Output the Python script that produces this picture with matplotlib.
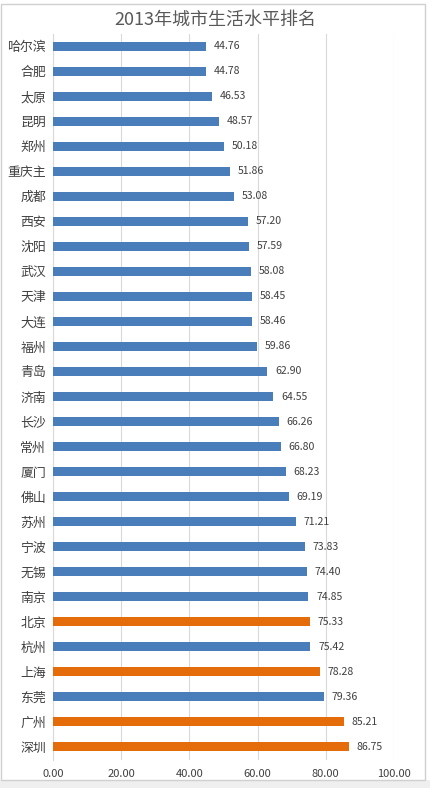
import matplotlib
matplotlib.use("Agg")
import matplotlib.pyplot as plt
from matplotlib.patches import Rectangle

plt.rcParams['font.family'] = ['Noto Sans CJK SC', 'DejaVu Sans']

cities = ["哈尔滨", "合肥", "太原", "昆明", "郑州", "重庆主", "成都", "西安", "沈阳", "武汉",
          "天津", "大连", "福州", "青岛", "济南", "长沙", "常州", "厦门", "佛山", "苏州",
          "宁波", "无锡", "南京", "北京", "杭州", "上海", "东莞", "广州", "深圳"]
values = [44.76, 44.78, 46.53, 48.57, 50.18, 51.86, 53.08, 57.20, 57.59, 58.08,
          58.45, 58.46, 59.86, 62.90, 64.55, 66.26, 66.80, 68.23, 69.19, 71.21,
          73.83, 74.40, 74.85, 75.33, 75.42, 78.28, 79.36, 85.21, 86.75]
highlight = ["北京", "上海", "广州", "深圳"]
xticks = [0, 20, 40, 60, 80, 100]
title = "2013年城市生活水平排名"

blue = "#4A7EBB"
orange = "#E46C0A"
colors = [orange if c in highlight else blue for c in cities]

fig = plt.figure(figsize=(4.31, 7.88), dpi=100)
fig.patch.set_facecolor("white")
# gray strip at bottom & border
fig.patches.append(Rectangle((0, 0), 1, 8/788, transform=fig.transFigure,
                             facecolor="#efefef", edgecolor="none", zorder=0))
fig.patches.append(Rectangle((1.5/431, 8/788), 424/431, 776/788, transform=fig.transFigure,
                             facecolor="none", edgecolor="#d0d0d0", linewidth=1, zorder=1))

ax = fig.add_axes([53/431, 1 - 759.5/788, (394 - 53)/431, (759.5 - 33.5)/788])
y = list(range(len(cities)))
ax.barh(y, values, height=0.36, color=colors, zorder=3)
ax.set_ylim(len(cities) - 0.5, -0.5)
ax.set_xlim(0, 100)
ax.set_xticks(xticks)
ax.set_xticklabels([f"{t:.2f}" for t in xticks], fontsize=8, color="#404040")
ax.set_yticks(y)
ax.set_yticklabels(cities, fontsize=9.3, color="#404040")
ax.tick_params(axis='both', length=0)
ax.tick_params(axis='x', pad=7)
ax.tick_params(axis='y', pad=5)
ax.grid(axis='x', color="#d9d9d9", linewidth=0.8, zorder=0)
for s in ["top", "right", "bottom"]:
    ax.spines[s].set_visible(False)
ax.spines["left"].set_color("#d9d9d9")
ax.spines["left"].set_linewidth(0.8)

for yi, v in zip(y, values):
    ax.text(v + 2.3, yi, f"{v:.2f}", va="center", ha="left", fontsize=7.6, color="#404040")

fig.text(0.5, 1 - 20/788, title, ha="center", va="center", fontsize=13, color="#595959")

fig.savefig("out.png", dpi=100)
